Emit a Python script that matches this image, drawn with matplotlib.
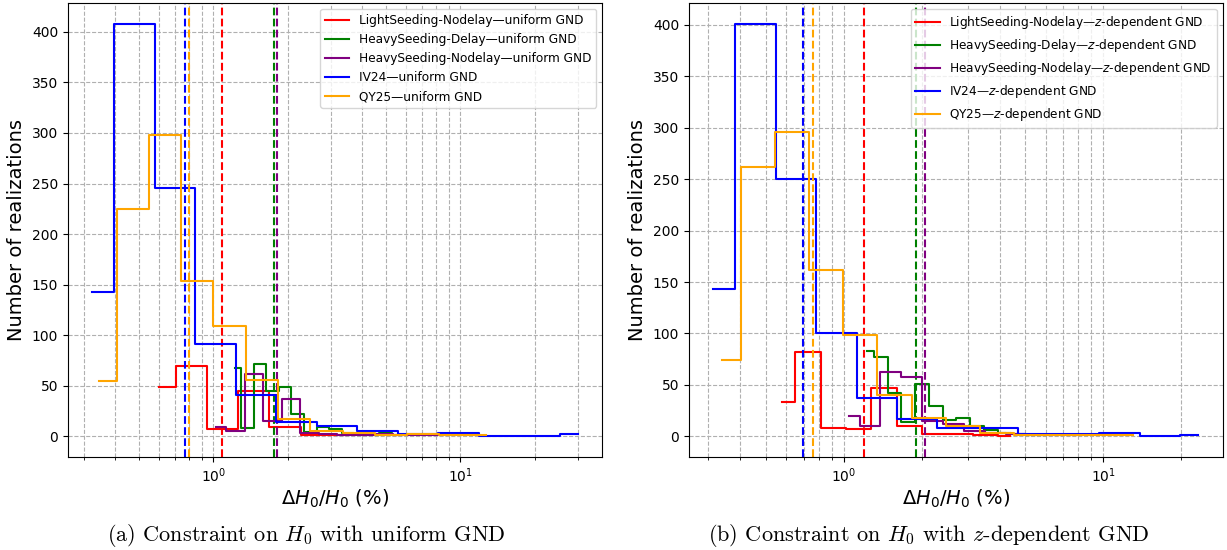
import numpy as np
import matplotlib.pyplot as plt

names = ["LightSeeding-Nodelay", "HeavySeeding-Delay", "HeavySeeding-Nodelay", "IV24", "QY25"]
colors = ["red", "green", "purple", "blue", "orange"]

# uniform GND: first / last bin centre (%) and counts per bin
uni_lo = [0.604, 1.22, 1.028, 0.323, 0.345]
uni_hi = [3.45, 5.6, 8.17, 30.0, 12.77]
uni_light = [49, 70, 7, 45, 9, 1, 1]
uni_heavy_delay = [68, 8, 72, 45, 49, 22, 4, 9, 7, 3, 2, 1, 3, 1]
uni_heavy_nodelay = [9, 5, 62, 15, 37, 3, 2, 1, 1, 2, 1, 1, 1]
uni_iv24 = [143, 408, 246, 91, 41, 14, 10, 5, 2, 3, 0, 0, 2]
uni_qy25 = [55, 225, 298, 154, 109, 56, 17, 5, 3, 1, 2, 1, 1]
uni_median = [1.087, 1.757, 1.818, 0.764, 0.798]

# z-dependent GND
zdep_lo = [0.578, 1.228, 1.045, 0.314, 0.340]
zdep_hi = [4.38, 6.0, 8.0, 23.3, 12.98]
zdep_light = [33, 82, 8, 7, 47, 10, 2, 2, 1, 0]
zdep_heavy_delay = [83, 77, 42, 14, 51, 30, 16, 18, 10, 6, 3, 2, 1, 1]
zdep_heavy_nodelay = [20, 10, 63, 58, 15, 12, 5, 3, 2, 1, 1, 1]
zdep_iv24 = [143, 401, 250, 100, 37, 17, 8, 8, 2, 2, 3, 0, 1]
zdep_qy25 = [74, 262, 296, 162, 99, 40, 18, 10, 3, 1, 1, 1, 1]
zdep_median = [1.193, 1.898, 2.06, 0.696, 0.763]

panels = [
    (uni_lo, uni_hi, [uni_light, uni_heavy_delay, uni_heavy_nodelay, uni_iv24, uni_qy25],
     uni_median, "uniform GND", r"(a) Constraint on $H_0$ with uniform GND"),
    (zdep_lo, zdep_hi, [zdep_light, zdep_heavy_delay, zdep_heavy_nodelay, zdep_iv24, zdep_qy25],
     zdep_median, r"$z$-dependent GND", r"(b) Constraint on $H_0$ with $z$-dependent GND"),
]

fig = plt.figure(figsize=(12.27, 5.5), dpi=100)
axes = [fig.add_axes([0.0554, 0.169, 0.4355, 0.8255]),
        fig.add_axes([0.5615, 0.169, 0.4350, 0.8255])]
caption_x = [0.25, 0.757]

for ax, (lo, hi, counts, med, tag, caption), cx in zip(axes, panels, caption_x):
    for name, c, l, h, n, m in zip(names, colors, lo, hi, counts, med):
        centres = np.geomspace(l, h, len(n))
        ax.step(centres, n, where="mid", color=c, lw=1.5, label=f"{name}\u2014{tag}")
        ax.axvline(m, color=c, ls="--", lw=1.5)
    ax.set_xscale("log")
    ax.grid(True, which="both", ls="--", color="#b0b0b0", lw=0.8)
    ax.set_axisbelow(True)
    ax.tick_params(labelsize=10)
    ax.set_xlabel(r"$\Delta H_0/H_0$ (%)", fontsize=14, labelpad=2)
    ax.set_ylabel("Number of realizations", fontsize=14)
    ax.legend(loc="upper right", fontsize=8.7)
    fig.text(cx, 0.026, caption, ha="center", va="center",
             fontsize=16, family="cmr10", math_fontfamily="cm")

fig.savefig("out.png", dpi=100)
